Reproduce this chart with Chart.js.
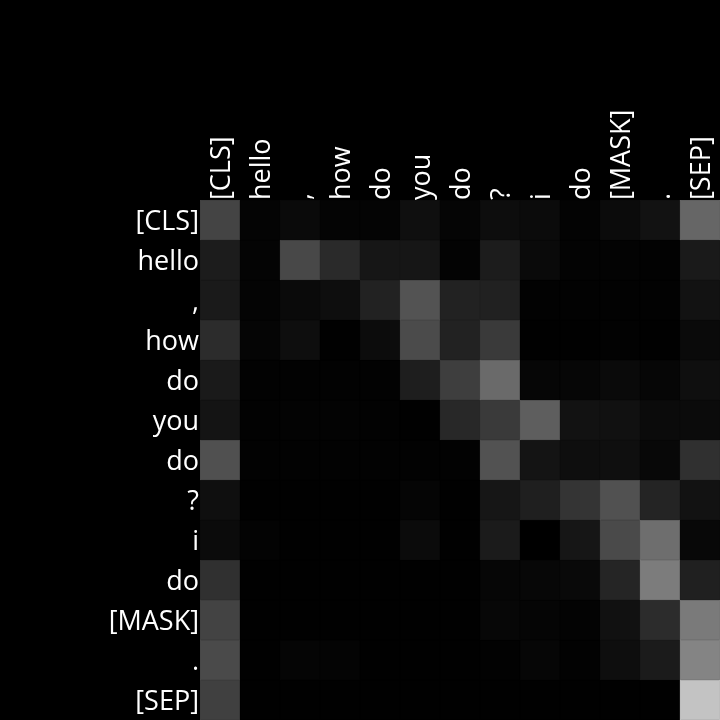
<!DOCTYPE html>
<html>
<head>
<meta charset="utf-8">
<style>
  html, body { margin: 0; padding: 0; background: #000; }
  #c { display: block; }
</style>
<script src="https://cdn.jsdelivr.net/npm/chart.js@4"></script>
</head>
<body>
<canvas id="c" width="720" height="720"></canvas>
<script>
const colLabels = ["[CLS]", "hello", ",", "how", "do", "you", "do", "?", "i", "do", "[MASK]", ".", "[SEP]"];
const rowLabels = ["[CLS]", "hello", ",", "how", "do", "you", "do", "?", "i", "do", "[MASK]", ".", "[SEP]"];
// attention intensity (0-255 grey scale, vmax 255)
const row0  = [68, 4, 10, 4, 4, 15, 5, 13, 11, 3, 11, 18, 102];
const row1  = [28, 4, 72, 42, 22, 22, 3, 28, 10, 3, 3, 2, 26];
const row2  = [26, 4, 10, 14, 34, 83, 34, 33, 2, 2, 2, 2, 18];
const row3  = [44, 5, 14, 1, 12, 75, 34, 58, 1, 1, 2, 1, 10];
const row4  = [26, 2, 2, 2, 2, 30, 62, 106, 6, 6, 10, 6, 15];
const row5  = [20, 2, 3, 3, 2, 1, 40, 58, 94, 18, 17, 11, 11];
const row6  = [80, 2, 2, 2, 2, 2, 2, 82, 20, 14, 15, 8, 48];
const row7  = [15, 1, 1, 1, 1, 5, 1, 22, 31, 52, 81, 36, 18];
const row8  = [11, 3, 1, 1, 1, 11, 1, 27, 0, 22, 74, 110, 8];
const row9  = [48, 1, 1, 1, 1, 1, 1, 6, 7, 9, 37, 124, 32];
const row10 = [67, 1, 1, 1, 1, 1, 1, 7, 5, 3, 17, 44, 122];
const row11 = [74, 1, 5, 4, 1, 1, 1, 2, 6, 2, 14, 27, 132];
const row12 = [64, 1, 1, 1, 1, 1, 1, 1, 1, 1, 1, 1, 195];
const rows = [row0, row1, row2, row3, row4, row5, row6, row7, row8, row9, row10, row11, row12];
const vmax = 255;

function grey(v) {
  const g = Math.round(Math.max(0, Math.min(1, v / vmax)) * 255);
  return `rgb(${g},${g},${g})`;
}

const datasets = rows.map((r, i) => ({
  label: rowLabels[i],
  data: r.map(() => 1),
  backgroundColor: r.map(grey),
  borderColor: r.map(grey),
  borderWidth: 0.5,
  borderSkipped: false,
  barPercentage: 1,
  categoryPercentage: 1
}));

const XFONT = { family: "Open Sans", size: 27, lineHeight: 1.0667 };
const YFONT = { family: "Open Sans", size: 27 };

new Chart(document.getElementById('c'), {
  type: 'bar',
  data: { labels: colLabels, datasets },
  options: {
    responsive: false,
    animation: false,
    layout: { padding: 0 },
    plugins: { legend: { display: false }, tooltip: { enabled: false } },
    scales: {
      x: {
        position: 'top',
        stacked: true,
        grid: { display: false, drawTicks: false },
        border: { display: false },
        ticks: {
          color: '#fff',
          font: XFONT,
          minRotation: 90,
          maxRotation: 90,
          autoSkip: false,
          padding: 0,
          labelOffset: 31
        },
        afterFit: (s) => { s.height = 200; s.paddingLeft = 0; s.paddingRight = 0; }
      },
      y: {
        type: 'linear',
        stacked: true,
        reverse: true,
        min: 0,
        max: rowLabels.length,
        grid: { display: false, drawTicks: false },
        border: { display: false },
        afterBuildTicks: (s) => { s.ticks = rowLabels.map((_, i) => ({ value: i + 0.5 })); },
        ticks: {
          color: '#fff',
          font: YFONT,
          autoSkip: false,
          padding: 1,
          labelOffset: 2,
          callback: (v, i) => rowLabels[i]
        },
        afterFit: (s) => { s.width = 200; s.paddingTop = 0; s.paddingBottom = 0; }
      }
    }
  }
});
</script>
</body>
</html>
